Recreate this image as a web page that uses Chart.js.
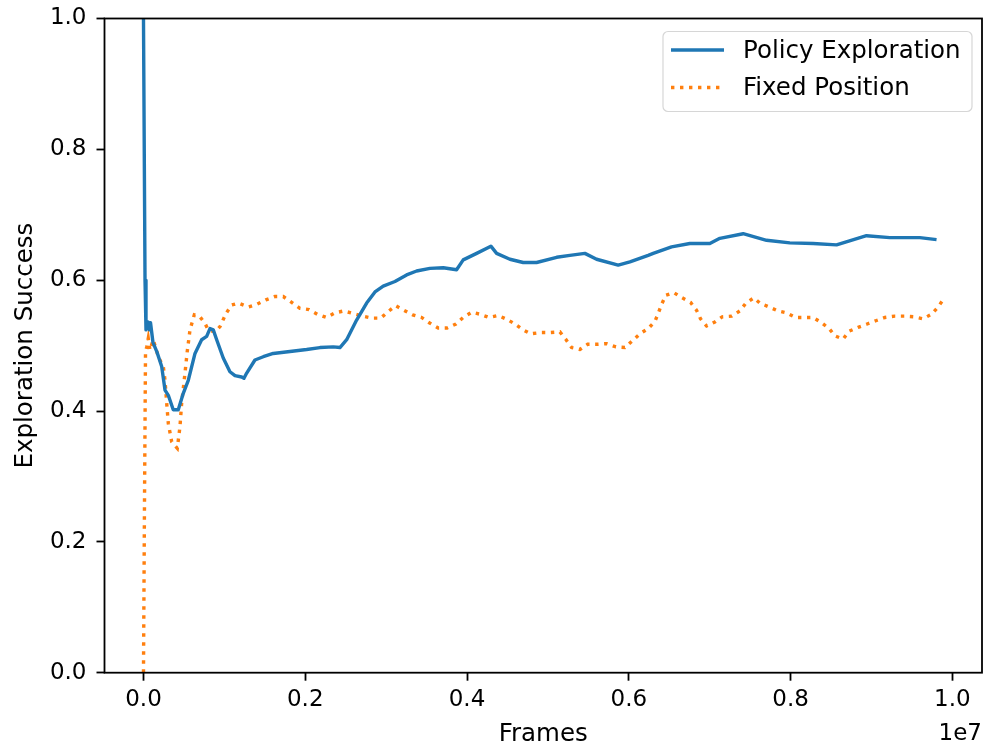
<!DOCTYPE html>
<html><head><meta charset="utf-8">
<script src="https://cdn.jsdelivr.net/npm/chart.js@4"></script>
<style>html,body{margin:0;padding:0;background:#fff}</style>
</head><body>
<canvas id="c" width="983" height="747" style="width:983px;height:747px;display:block"></canvas>
<script>
// x values in units of 1e7 frames
const policyX = [0, 0.0019, 0.0031, 0.0059, 0.0074, 0.0087, 0.0117, 0.0167, 0.0225, 0.0266, 0.0307, 0.0368, 0.0430, 0.0492, 0.0554, 0.0637, 0.0719, 0.0781, 0.0822, 0.0863, 0.0905, 0.0986, 0.1069, 0.1131, 0.1214, 0.1242, 0.1276, 0.1378, 0.1481, 0.1604, 0.1811, 0.2017, 0.2182, 0.2346, 0.2429, 0.2512, 0.2635, 0.2759, 0.2862, 0.2964, 0.3109, 0.3253, 0.3377, 0.3541, 0.3706, 0.3871, 0.3953, 0.4119, 0.4295, 0.4366, 0.4530, 0.4695, 0.4860, 0.5108, 0.5272, 0.5457, 0.5602, 0.5869, 0.6014, 0.6240, 0.6302, 0.6529, 0.6755, 0.7002, 0.7126, 0.7414, 0.7703, 0.7991, 0.8279, 0.8569, 0.8939, 0.9227, 0.9598, 0.9805];
const policyY = [1.0, 0.600, 0.524, 0.536, 0.524, 0.535, 0.505, 0.49, 0.468, 0.432, 0.424, 0.402, 0.402, 0.427, 0.447, 0.488, 0.509, 0.514, 0.526, 0.524, 0.509, 0.481, 0.460, 0.454, 0.452, 0.450, 0.458, 0.478, 0.483, 0.488, 0.491, 0.494, 0.497, 0.498, 0.497, 0.509, 0.539, 0.565, 0.582, 0.591, 0.598, 0.608, 0.614, 0.618, 0.619, 0.616, 0.631, 0.641, 0.652, 0.641, 0.632, 0.627, 0.627, 0.635, 0.638, 0.641, 0.632, 0.623, 0.628, 0.638, 0.641, 0.651, 0.656, 0.656, 0.664, 0.671, 0.661, 0.657, 0.656, 0.654, 0.668, 0.665, 0.665, 0.662];
const fixedX = [0, 0.0012, 0.0025, 0.0040, 0.0059, 0.0080, 0.0121, 0.0183, 0.0245, 0.0266, 0.0287, 0.0307, 0.0349, 0.0418, 0.0451, 0.0472, 0.0513, 0.0541, 0.0575, 0.0628, 0.0698, 0.0760, 0.0801, 0.0884, 0.0946, 0.1020, 0.1090, 0.1172, 0.1295, 0.1399, 0.1514, 0.1625, 0.1728, 0.1832, 0.1934, 0.2046, 0.2148, 0.2265, 0.2367, 0.2478, 0.2593, 0.2710, 0.2821, 0.2932, 0.3026, 0.3117, 0.3220, 0.3328, 0.3439, 0.3533, 0.3644, 0.3755, 0.3863, 0.3953, 0.4057, 0.4159, 0.4271, 0.4386, 0.4497, 0.4592, 0.4695, 0.4790, 0.4910, 0.5025, 0.5148, 0.5219, 0.5293, 0.5396, 0.5491, 0.5609, 0.5726, 0.5841, 0.5952, 0.6042, 0.6137, 0.6240, 0.6323, 0.6363, 0.6405, 0.6459, 0.6557, 0.6660, 0.6764, 0.6838, 0.6887, 0.6962, 0.7064, 0.7155, 0.7271, 0.7373, 0.7448, 0.7546, 0.7621, 0.7736, 0.7847, 0.7950, 0.8062, 0.8279, 0.8383, 0.8477, 0.8548, 0.8650, 0.8724, 0.8836, 0.8947, 0.9054, 0.9166, 0.9289, 0.9413, 0.9524, 0.9639, 0.9743, 0.9824, 0.9886];
const fixedY = [0, 0.25, 0.49, 0.498, 0.511, 0.493, 0.509, 0.483, 0.468, 0.447, 0.412, 0.381, 0.353, 0.343, 0.376, 0.412, 0.458, 0.491, 0.524, 0.547, 0.544, 0.534, 0.524, 0.521, 0.529, 0.549, 0.562, 0.565, 0.559, 0.563, 0.570, 0.575, 0.575, 0.566, 0.557, 0.555, 0.548, 0.543, 0.550, 0.553, 0.549, 0.545, 0.542, 0.542, 0.552, 0.561, 0.554, 0.547, 0.543, 0.535, 0.527, 0.527, 0.533, 0.543, 0.551, 0.548, 0.543, 0.546, 0.540, 0.533, 0.524, 0.518, 0.520, 0.520, 0.521, 0.510, 0.497, 0.494, 0.502, 0.502, 0.503, 0.498, 0.497, 0.507, 0.518, 0.526, 0.537, 0.549, 0.563, 0.577, 0.581, 0.573, 0.566, 0.554, 0.541, 0.530, 0.536, 0.544, 0.545, 0.553, 0.565, 0.573, 0.565, 0.559, 0.553, 0.550, 0.543, 0.543, 0.535, 0.526, 0.515, 0.510, 0.522, 0.528, 0.533, 0.538, 0.543, 0.545, 0.545, 0.544, 0.541, 0.548, 0.559, 0.570];
const xTicks = [0, 0.2, 0.4, 0.6, 0.8, 1.0];
const yTicks = [0, 0.2, 0.4, 0.6, 0.8, 1.0];
const seriesLabels = ['Policy Exploration', 'Fixed Position'];
const xTitle = 'Frames';
const yTitle = 'Exploration Success';
const xOffsetText = '1e7';

const FONT = '"DejaVu Sans", sans-serif';
const FS = 23;      // tick labels
const FL = 24.5;    // axis titles and legend
const LW = 3.4;
const DOT = [3.4, 5.6];
const BLUE = '#1f77b4', ORANGE = '#ff7f0e';

function pts(xs, ys) { return xs.map((x, i) => ({x, y: ys[i]})); }

const decor = {
  id: 'decor',
  afterDatasetsDraw(chart) {
    const {ctx, chartArea: a} = chart;
    ctx.save();
    ctx.strokeStyle = '#000';
    ctx.lineWidth = 1.8;
    ctx.strokeRect(a.left, a.top, a.right - a.left, a.bottom - a.top);
    ctx.fillStyle = '#000';
    ctx.font = FL + 'px ' + FONT;
    ctx.textAlign = 'center';
    ctx.textBaseline = 'middle';
    ctx.fillText(xTitle, (a.left + a.right) / 2, 735);
    ctx.save();
    ctx.translate(26, (a.top + a.bottom) / 2);
    ctx.rotate(-Math.PI / 2);
    ctx.fillText(yTitle, 0, 0);
    ctx.restore();
    ctx.font = FS + 'px ' + FONT;
    ctx.textAlign = 'right';
    ctx.fillText(xOffsetText, a.right, 734);
    // legend
    const lx = 663, ly = 31.5, lw = 309, lh = 80;
    ctx.beginPath();
    ctx.roundRect(lx, ly, lw, lh, 5);
    ctx.fillStyle = 'rgba(255,255,255,0.8)';
    ctx.fill();
    ctx.strokeStyle = 'rgba(204,204,204,0.8)';
    ctx.lineWidth = 1.2;
    ctx.stroke();
    const rows = [50, 87.5];
    chart.data.datasets.forEach((ds, i) => {
      ctx.beginPath();
      ctx.strokeStyle = ds.borderColor;
      ctx.lineWidth = ds.borderWidth;
      ctx.lineCap = 'butt';
      ctx.setLineDash(ds.borderDash || []);
      ctx.moveTo(671, rows[i]);
      ctx.lineTo(724, rows[i]);
      ctx.stroke();
      ctx.setLineDash([]);
      ctx.fillStyle = '#000';
      ctx.textAlign = 'left';
      ctx.textBaseline = 'middle';
      ctx.font = FL + 'px ' + FONT;
      ctx.fillText(ds.label, 743, rows[i] + 1.5);
    });
    ctx.restore();
  }
};

new Chart(document.getElementById('c'), {
  type: 'line',
  data: {
    datasets: [
      {label: seriesLabels[0], data: pts(policyX, policyY), borderColor: BLUE, borderWidth: LW, pointRadius: 0, fill: false, borderJoinStyle: 'round', tension: 0},
      {label: seriesLabels[1], data: pts(fixedX, fixedY), borderColor: ORANGE, borderWidth: LW, borderDash: DOT, borderCapStyle: 'butt', pointRadius: 0, fill: false, tension: 0}
    ]
  },
  options: {
    responsive: false,
    devicePixelRatio: 1,
    animation: false,
    events: [],
    layout: {padding: {top: 18.5, right: 1, left: 0, bottom: 0}},
    plugins: {legend: {display: false}, tooltip: {enabled: false}},
    scales: {
      x: {
        type: 'linear', min: -0.0482, max: 1.0367,
        afterBuildTicks: s => { s.ticks = xTicks.map(v => ({value: v})); },
        afterFit: s => { s.height = 74.3; s.paddingLeft = 0; s.paddingRight = 0; },
        grid: {drawOnChartArea: false, drawTicks: true, tickLength: 8, tickWidth: 1.8, tickColor: '#000', color: '#000'},
        border: {display: false},
        ticks: {font: {family: FONT, size: FS}, color: '#000', padding: 6, maxRotation: 0, callback: v => v.toFixed(1)}
      },
      y: {
        type: 'linear', min: 0, max: 1,
        afterBuildTicks: s => { s.ticks = yTicks.map(v => ({value: v})); },
        afterFit: s => { s.width = 104.5; s.paddingTop = 0; s.paddingBottom = 0; },
        grid: {drawOnChartArea: false, drawTicks: true, tickLength: 8, tickWidth: 1.8, tickColor: '#000', color: '#000'},
        border: {display: false},
        ticks: {font: {family: FONT, size: FS}, color: '#000', padding: 10, callback: v => v.toFixed(1)}
      }
    }
  },
  plugins: [decor]
});
</script>
</body></html>
